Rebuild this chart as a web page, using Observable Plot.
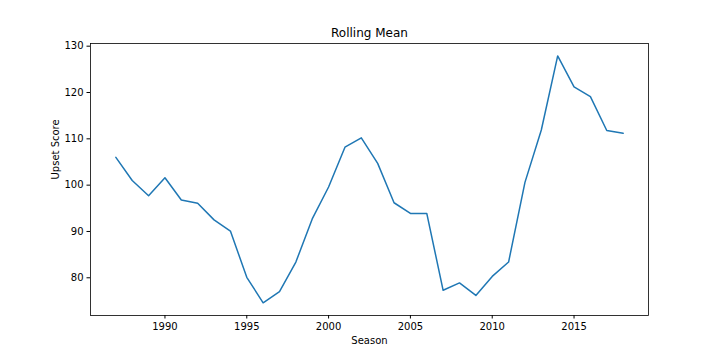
<!DOCTYPE html>
<html>
<head>
<meta charset="utf-8">
<script src="https://cdn.jsdelivr.net/npm/d3@7"></script>
<script src="https://cdn.jsdelivr.net/npm/@observablehq/plot@0.6"></script>
<style>
  html, body { margin: 0; padding: 0; background: #fff; }
  #chart svg { display: block; }
</style>
</head>
<body>
<div id="chart"></div>
<script>
const seasons = [1987, 1988, 1989, 1990, 1991, 1992, 1993, 1994, 1995, 1996,
  1997, 1998, 1999, 2000, 2001, 2002, 2003, 2004, 2005, 2006,
  2007, 2008, 2009, 2010, 2011, 2012, 2013, 2014, 2015, 2016, 2017, 2018];
const upsetScores = [106.0, 101.0, 97.7, 101.6, 96.8, 96.1, 92.5, 90.1, 80.1, 74.6,
  77.0, 83.4, 92.7, 99.6, 108.2, 110.2, 104.7, 96.2, 93.9, 93.9,
  77.3, 78.9, 76.2, 80.3, 83.4, 100.6, 111.9, 127.9, 121.2, 119.1, 111.8, 111.2];
const xTicks = [1990, 1995, 2000, 2005, 2010, 2015];
const yTicks = [80, 90, 100, 110, 120, 130];
const titleText = "Rolling Mean";
const xLabel = "Season";
const yLabel = "Upset Score";

const data = seasons.map((s, i) => ({season: s, score: upsetScores[i]}));

const chart = Plot.plot({
  width: 720,
  height: 360,
  marginLeft: 90,
  marginRight: 72,
  marginTop: 43,
  marginBottom: 45,
  style: {fontFamily: "DejaVu Sans", fontSize: "10px", color: "#000", background: "#fff"},
  x: {domain: [1985.45, 2019.55]},
  y: {domain: [71.86, 130.58]},
  marks: [
    Plot.line(data, {x: "season", y: "score", stroke: "#1f77b4", strokeWidth: 1.5}),
    Plot.frame({stroke: "#000", strokeWidth: 0.8}),
    Plot.axisX({ticks: xTicks, tickFormat: "d", tickSize: 3.5, tickPadding: 3.5, label: null, fontSize: 10, stroke: "#000"}),
    Plot.axisY({ticks: yTicks, tickFormat: "d", tickSize: 3.5, tickPadding: 3.5, label: null, fontSize: 10, stroke: "#000"}),
    Plot.text([titleText], {text: d => d, frameAnchor: "top", lineAnchor: "middle", dy: -10, fontSize: 12, fill: "#000"}),
    Plot.text([xLabel], {text: d => d, frameAnchor: "bottom", lineAnchor: "middle", dy: 25, fontSize: 10, fill: "#000"}),
    Plot.text([yLabel], {text: d => d, frameAnchor: "left", lineAnchor: "middle", dx: -35, rotate: -90, fontSize: 10, fill: "#000"})
  ]
});
document.getElementById("chart").appendChild(chart);
</script>
</body>
</html>
